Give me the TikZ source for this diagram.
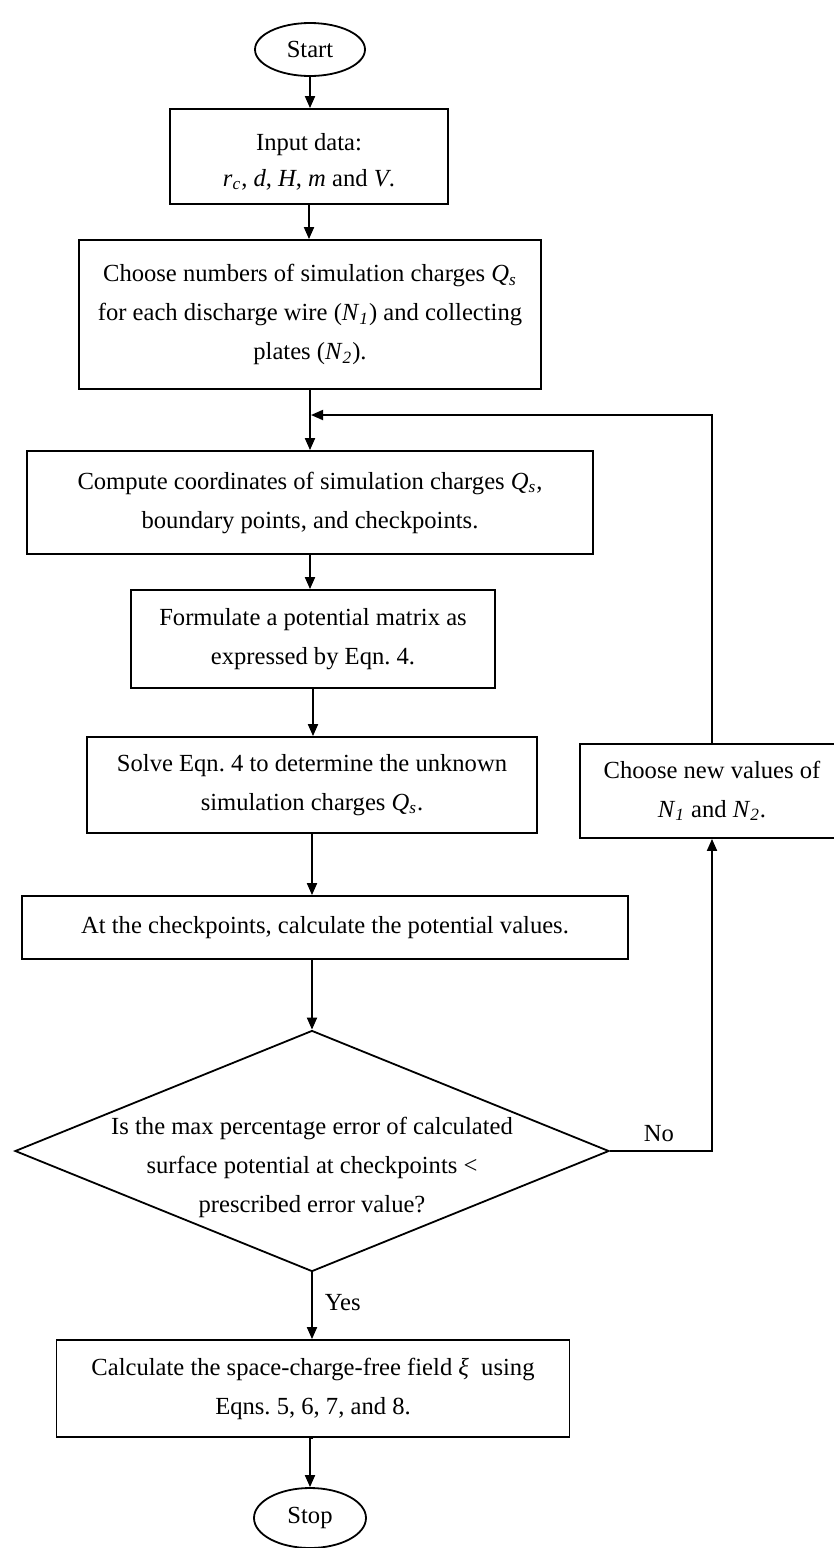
\documentclass[tikz,border=0pt]{standalone}
\usepackage{fontspec}
\setmainfont{Liberation Serif}
\usetikzlibrary{shapes.geometric,arrows.meta}
\newcommand\myfs{\fontsize{12.3}{19.5}\selectfont}
\newcommand\vi[1]{\textit{#1}}
\newcommand\sub[1]{\textsubscript{\textit{#1}}}
\begin{document}
\begin{tikzpicture}[x=0.5pt,y=-0.5pt,
  box/.style={draw, line width=0.9pt, inner sep=0pt, align=center, font=\myfs},
  term/.style={draw, ellipse, line width=0.9pt, inner sep=0pt, font=\myfs},
  decision/.style={draw, diamond, line width=0.9pt, inner sep=0pt},
  lbl/.style={font=\myfs, inner sep=0pt},
  arr/.style={line width=0.9pt, -{Triangle[length=6pt,width=5pt]}},
  ln/.style={line width=0.9pt}]
\useasboundingbox (0,0) rectangle (834,1548);
\node[term, minimum width=55pt, minimum height=26.5pt] (start) at (310,49.5) {Start};
\node[box, minimum width=139pt, minimum height=47.5pt] (input) at (309,156.5) {};
\node[lbl, align=center] (inputtext) at (309,161.5)
  {Input data:\\[-1.5pt] \vi{r}\sub{c}, \vi{d}, \vi{H}, \vi{m} and \vi{V}.};
\node[box, minimum width=231pt, minimum height=74.5pt] (choose) at (310,314.5)
  {Choose numbers of simulation charges \vi{Q}\sub{s}\\ for each discharge wire (\vi{N}\sub{1}) and collecting\\ plates (\vi{N}\sub{2}).};
\node[box, minimum width=283pt, minimum height=51.5pt] (compute) at (310,502.5)
  {Compute coordinates of simulation charges \vi{Q}\sub{s},\\ boundary points, and checkpoints.};
\node[box, minimum width=182pt, minimum height=49pt] (formulate) at (313,639)
  {Formulate a potential matrix as\\ expressed by Eqn.\ 4.};
\node[box, minimum width=225pt, minimum height=48pt] (solve) at (312,785)
  {Solve Eqn.\ 4 to determine the unknown\\ simulation charges \vi{Q}\sub{s}.};
\node[box, minimum width=303pt, minimum height=31.5pt] (atcp) at (325,927.5)
  {At the checkpoints, calculate the potential values.};
\node[decision, minimum width=297pt, minimum height=120.5pt] (dec) at (312,1151) {};
\node[lbl, align=center] (dectext) at (312,1167)
  {Is the max percentage error of calculated\\ surface potential at checkpoints <\\ prescribed error value?};
\node[box, minimum width=256.5pt, minimum height=48.5pt] (calc) at (313,1388.5)
  {Calculate the space-charge-free field \vi{ξ}\ \ using\\ Eqns.\ 5, 6, 7, and 8.};
\node[term, minimum width=56pt, minimum height=30pt] (stop) at (310,1518) {Stop};
\node[box, minimum width=132pt, minimum height=47pt] (newv) at (712,791)
  {Choose new values of\\ \vi{N}\sub{1} and \vi{N}\sub{2}.};
\coordinate (join) at (311,415);
% connectors
\draw[arr] (start.south) -- (start.south |- input.north);
\draw[arr] (input.south) -- (input.south |- choose.north);
\draw[arr] (choose.south) -- (choose.south |- compute.north);
\draw[arr] (compute.south) -- (compute.south |- formulate.north);
\draw[arr] (formulate.south) -- (formulate.south |- solve.north);
\draw[arr] (solve.south) -- (solve.south |- atcp.north);
\draw[arr] (dec.north |- atcp.south) -- (dec.north);
\draw[arr] (dec.south) -- node[lbl, right=6pt, pos=0.45] (yes) {Yes} (dec.south |- calc.north);
\draw[arr] (calc.south) -- (calc.south -| stop.north) -- (stop.north);
\draw[arr] (dec.east) -- node[lbl, above=4pt, pos=0.48] (no) {No} (dec.east -| newv.south) -- (newv.south);
\draw[arr] (newv.north) -- (newv.north |- join) -- (join);
\end{tikzpicture}
\end{document}
